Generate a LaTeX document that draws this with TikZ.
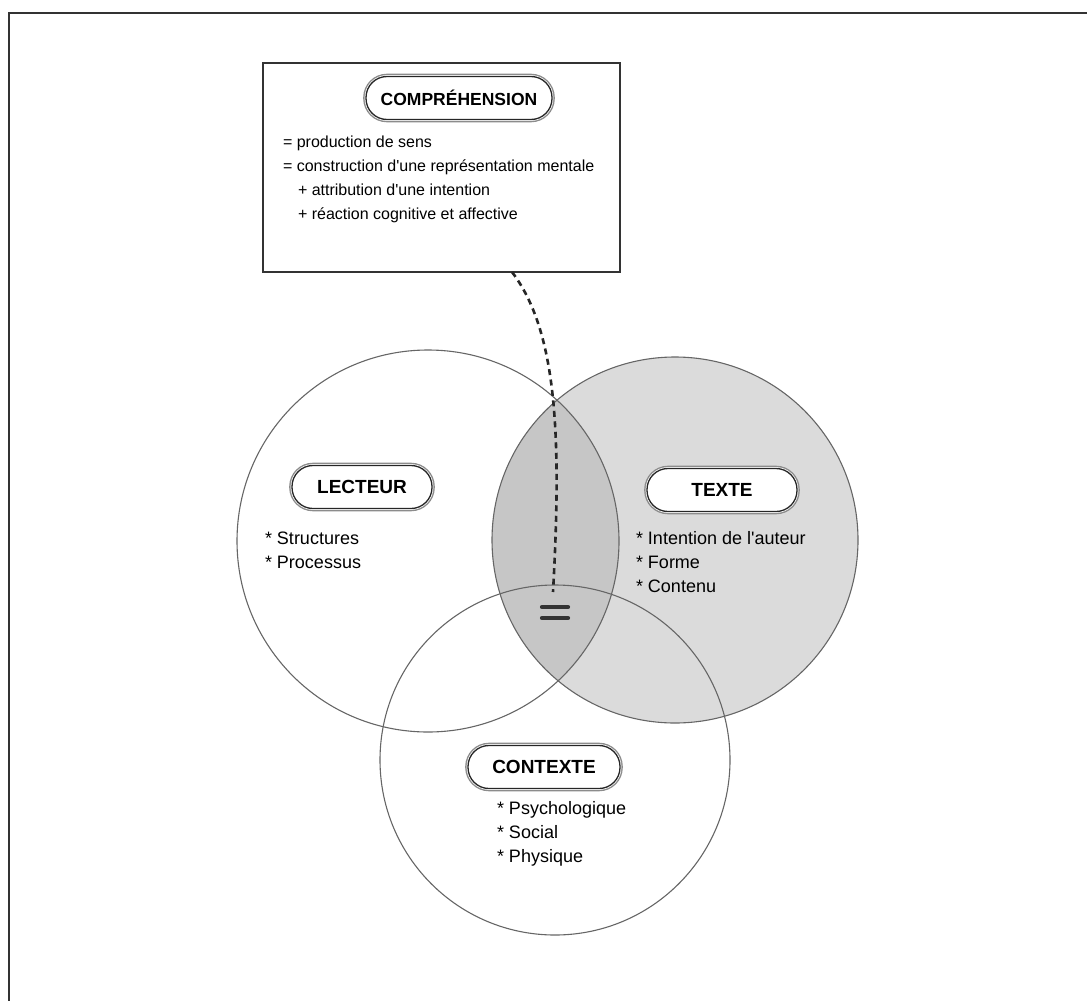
\documentclass[tikz,border=0pt]{standalone}
\usepackage{fontspec}
\newfontfamily\labelfont{Liberation Sans}
\begin{document}
\begin{tikzpicture}[x=1pt,y=-1pt,
  every node/.style={inner sep=0pt, outer sep=0pt},
  ring/.style={draw=black!60, line width=1.1pt},
  pill/.style={rounded corners=21pt, fill=white, draw=black!85, line width=1.3pt,
    preaction={draw=black!45, line width=5.6pt},
    preaction={draw=white, line width=2.8pt},
    minimum height=43pt, font=\labelfont\fontsize{19}{23}\selectfont\bfseries},
  item/.style={anchor=west, text height=13pt, text depth=3.5pt,
    font=\labelfont\fontsize{18}{22}\selectfont},
  note/.style={anchor=west, text height=11.5pt, text depth=3pt,
    font=\labelfont\fontsize{16}{19}\selectfont},
  box/.style={draw=black!80, line width=2.6pt, fill=white},
  link/.style={draw=black!85, line width=2.6pt, dash pattern=on 6pt off 4.5pt},
  bar/.style={draw=black!80, line width=4.2pt, line cap=round}
]
\useasboundingbox (0,0) rectangle (1087,1001);

% outer frame (only top and left edges)
\draw[draw=black!80, line width=2.4pt] (9,1001) -- (9,13) -- (1087,13);

% circles: reader, text, context
\fill[gray!28] (675,540) circle[radius=183];
\begin{scope}
  \clip (428,541) circle[radius=191];
  \fill[gray!45] (675,540) circle[radius=183];
\end{scope}
\draw[ring] (428,541) circle[radius=191];
\draw[ring] (675,540) circle[radius=183];
\draw[ring] (555,760) circle[radius=175];

% comprehension box
\node[box, minimum width=357pt, minimum height=209pt] (compbox) at (441.5,167.5) {};
\node[pill, minimum width=186pt, font=\labelfont\fontsize{17.5}{21}\selectfont\bfseries] (comp) at (459,98) {COMPRÉHENSION};
\node[note] (c1) at (283,143) {= production de sens};
\node[note] (c2) at (283,167) {= construction d'une représentation mentale};
\node[note] (c3) at (298,191) {+ attribution d'une intention};
\node[note] (c4) at (298,215) {+ réaction cognitive et affective};

% reader
\node[pill, minimum width=140pt] (lect) at (362,487) {LECTEUR};
\node[item] (l1) at (265,540) {* Structures};
\node[item] (l2) at (265,564) {* Processus};

% text
\node[pill, minimum width=150pt] (texte) at (722,490) {TEXTE};
\node[item] (t1) at (636,540) {* Intention de l'auteur};
\node[item] (t2) at (636,564) {* Forme};
\node[item] (t3) at (636,588) {* Contenu};

% context
\node[pill, minimum width=152pt] (ctx) at (544,767) {CONTEXTE};
\node[item] (x1) at (497,810) {* Psychologique};
\node[item] (x2) at (497,834) {* Social};
\node[item] (x3) at (497,858) {* Physique};

% equality sign at the common zone and the dashed link to the box
\coordinate (linkstart) at (512,272);
\coordinate (eqtop) at (553,592);
\draw[bar] (542,607) -- (568,607);
\draw[bar] (542,618) -- (568,618);
\draw[link] (linkstart) .. controls (556,330) and (562,430) .. (eqtop);
\end{tikzpicture}
\end{document}
